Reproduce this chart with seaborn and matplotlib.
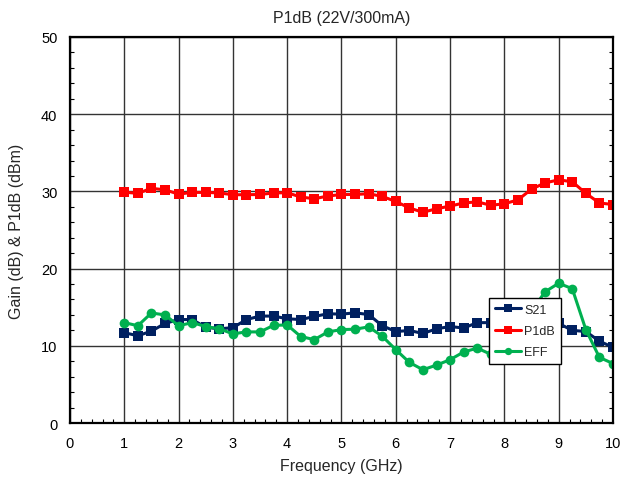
import numpy as np
import pandas as pd
import matplotlib
matplotlib.use('Agg')
import matplotlib.pyplot as plt
from matplotlib.ticker import MultipleLocator
import seaborn as sns

# frequency points (GHz)
freq = [1.0, 1.25, 1.5, 1.75, 2.0, 2.25, 2.5, 2.75, 3.0, 3.25, 3.5, 3.75,
        4.0, 4.25, 4.5, 4.75, 5.0, 5.25, 5.5, 5.75, 6.0, 6.25, 6.5, 6.75,
        7.0, 7.25, 7.5, 7.75, 8.0, 8.25, 8.5, 8.75, 9.0, 9.25, 9.5, 9.75, 10.0]

s21 = [11.7, 11.3, 11.9, 12.9, 13.4, 13.4, 12.4, 12.2, 12.35, 13.4, 13.85, 13.85,
       13.5, 13.4, 13.8, 14.15, 14.1, 14.27, 14.05, 12.6, 11.85, 11.98, 11.6, 12.2,
       12.5, 12.3, 13.0, 13.0, 13.0, 13.0, 13.1, 13.0, 12.9, 12.0, 11.85, 10.6, 9.8]

p1db = [29.9, 29.75, 30.4, 30.2, 29.65, 29.87, 29.87, 29.8, 29.57, 29.57, 29.6, 29.8,
        29.83, 29.27, 29.05, 29.4, 29.6, 29.6, 29.7, 29.35, 28.7, 27.85, 27.3, 27.75,
        28.1, 28.5, 28.65, 28.2, 28.4, 28.9, 30.3, 31.1, 31.5, 31.25, 29.75, 28.5, 28.3]

eff = [13.0, 12.6, 14.25, 14.0, 12.6, 13.0, 12.5, 12.2, 11.55, 11.8, 11.8, 12.65,
       12.7, 11.2, 10.8, 11.8, 12.1, 12.15, 12.45, 11.25, 9.5, 7.85, 6.9, 7.5,
       8.2, 9.2, 9.7, 8.9, 9.5, 11.5, 14.5, 17.0, 18.1, 17.4, 12.1, 8.5, 7.7]

series_names = ['S21', 'P1dB', 'EFF']
colors = {'S21': '#002060', 'P1dB': '#FF0000', 'EFF': '#00B050'}
markers = {'S21': 's', 'P1dB': 's', 'EFF': 'o'}

df = pd.DataFrame({
    'freq': freq * 3,
    'value': s21 + p1db + eff,
    'series': ['S21'] * len(freq) + ['P1dB'] * len(freq) + ['EFF'] * len(freq),
})

sns.set_style('white')
plt.rcParams['font.family'] = ['Liberation Sans', 'DejaVu Sans']

fig = plt.figure(figsize=(6.22, 4.81), dpi=100)
ax = fig.add_axes([0.1125, 0.1185, 0.8730, 0.8025])

sns.lineplot(data=df, x='freq', y='value', hue='series', style='series',
             hue_order=series_names, style_order=series_names,
             palette=colors, markers=markers, dashes=False,
             linewidth=2.2, markersize=7, markeredgewidth=0, ax=ax)

ax.set_xlim(0, 10)
ax.set_ylim(0, 50)
ax.xaxis.set_major_locator(MultipleLocator(1))
ax.xaxis.set_minor_locator(MultipleLocator(0.2))
ax.yaxis.set_major_locator(MultipleLocator(10))
ax.yaxis.set_minor_locator(MultipleLocator(2))
ax.tick_params(which='both', direction='in', top=False, right=True, left=True, bottom=True,
               labelsize=10.5, colors='black')
ax.tick_params(which='major', length=0, pad=9)
ax.tick_params(which='minor', length=3, width=0.8)
ax.grid(True, which='major', color='#333333', linewidth=1.0)
for sp in ax.spines.values():
    sp.set_color('black')
    sp.set_linewidth(1.6)

ax.set_xlabel('Frequency (GHz)', fontsize=11.5, labelpad=6)
ax.set_ylabel('Gain (dB) & P1dB (dBm)', fontsize=11.5, labelpad=12)
ax.set_title('P1dB (22V/300mA)', fontsize=11.5, pad=11)

leg = ax.legend(loc='upper left', bbox_to_anchor=(0.772, 0.324), borderaxespad=0,
                fontsize=9, frameon=True, fancybox=False, framealpha=1, edgecolor='black',
                handlelength=2.1, borderpad=0.45, labelspacing=0.75, handletextpad=0.25,
                markerscale=0.75)
leg.get_frame().set_linewidth(1.0)

fig.savefig('out.png', dpi=100)
